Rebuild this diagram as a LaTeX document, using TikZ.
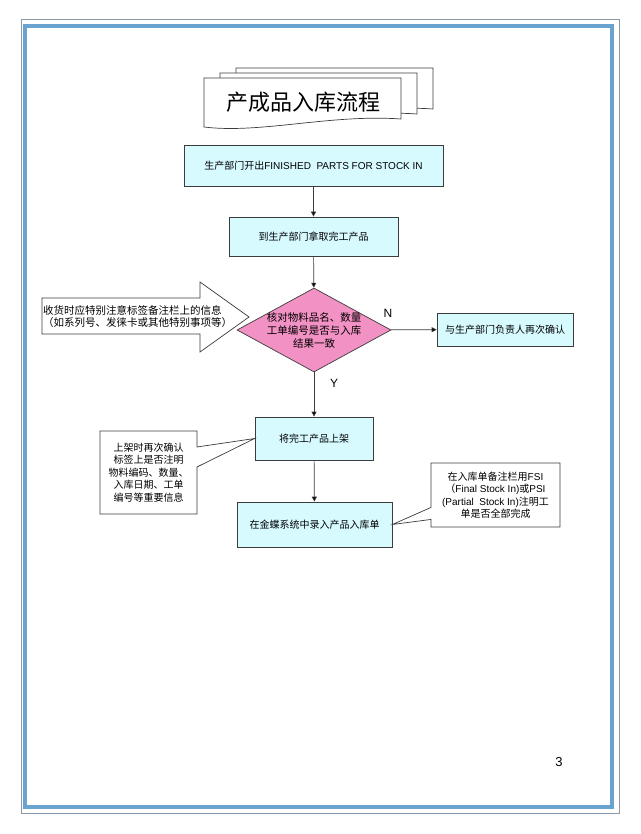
\documentclass[tikz,border=0pt]{standalone}
\usepackage{fontspec}
\setmainfont{Liberation Sans}
\newfontfamily\cjk{Noto Sans CJK SC}
\usetikzlibrary{arrows.meta}
\usetikzlibrary{positioning}
\usetikzlibrary{shapes.geometric}
\usetikzlibrary{shapes.callouts}

\definecolor{boxfill}{RGB}{215,250,255}
\definecolor{checkfill}{RGB}{242,145,195}
\definecolor{frameblue}{RGB}{105,163,208}
\definecolor{framegray}{RGB}{140,152,165}
\definecolor{linegray}{RGB}{60,60,60}

\begin{document}
\begin{tikzpicture}[x=1pt,y=-1pt,
    stepbox/.style={draw=linegray,line width=0.7pt,fill=boxfill,inner sep=2pt,
        font=\cjk\fontsize{10}{12}\selectfont,align=center},
    check/.style={diamond,draw=linegray,line width=0.7pt,fill=checkfill,inner sep=0pt},
    note/.style={rectangle callout,draw=linegray,line width=0.7pt,fill=white,
        font=\cjk\fontsize{10}{12.5}\selectfont,align=center,inner sep=2pt},
    flow/.style={draw=linegray,line width=0.7pt,-{Triangle[length=5pt,width=5pt]}}]
   \useasboundingbox (0,0) rectangle (640,834);
   % page frame
   \draw[framegray,line width=1pt] (21,20) rectangle (619,813);
   \draw[frameblue,line width=4pt] (25,26) rectangle (612,807);
   % title documents
   \foreach \dx/\dy in {32/-10,16/-5,0/0}
     \draw[linegray,line width=0.7pt,fill=white]
       (204+\dx,78+\dy) -- (401+\dx,78+\dy) -- (401+\dx,119+\dy)
       .. controls (330+\dx,114+\dy) and (260+\dx,134+\dy) .. (204+\dx,127+\dy) -- cycle;
   \node[font=\cjk\fontsize{22}{24}\selectfont] (title) at (303,102) {产成品入库流程};
   % flow
   \node[stepbox,minimum width=259pt,minimum height=41pt] (s_1) at (313.5,165.5)
      {生产部门开出{\rmfamily FINISHED\ \ PARTS FOR STOCK IN}};
   \node[stepbox,minimum width=169pt,minimum height=39pt] (s_2) at (313.5,236.5) {到生产部门拿取完工产品};
   \node[check,minimum width=154pt,minimum height=84pt] (d_1) at (314,330) {};
   \node[font=\cjk\fontsize{10.5}{13}\selectfont,align=center] (d_1t) at (d_1.center)
      {核对物料品名、数量\\工单编号是否与入库\\结果一致};
   \node[stepbox,minimum width=136pt,minimum height=33pt] (s_3) at (505,329.5) {与生产部门负责人再次确认};
   \node[stepbox,minimum width=118pt,minimum height=43pt] (s_4) at (314,438.5) {将完工产品上架};
   \node[stepbox,minimum width=155pt,minimum height=45pt] (s_5) at (314.5,524.5) {在金蝶系统中录入产品入库单};
   \path[flow]
    (s_1) edge (s_2)
    (s_2) edge (d_1)
    (d_1) edge (s_3)
    (d_1) edge (s_4)
    (s_4) edge (s_5);
   \node[font=\fontsize{12}{14}\selectfont] (n_lbl) at (388,313) {N};
   \node[font=\fontsize{12}{14}\selectfont] (y_lbl) at (334,383) {Y};
   % hint arrow
   \draw[linegray,line width=0.7pt,fill=white]
     (42,298) -- (200,298) -- (200,282) -- (249,317) -- (200,352) -- (200,334) -- (42,334) -- cycle;
   \node[anchor=west,inner sep=0pt,font=\cjk\fontsize{10.5}{12}\selectfont,align=left] (hint) at (43,317)
      {收货时应特别注意标签备注栏上的信息\\（如系列号、发徕卡或其他特别事项等）};
   % notes
   \node[note,minimum width=97pt,minimum height=83pt,callout pointer width=20pt,
         callout absolute pointer={(s_4.west)}] (c_1) at (148.5,472.5)
      {上架时再次确认\\标签上是否注明\\物料编码、数量、\\入库日期、工单\\编号等重要信息};
   \node[note,minimum width=129pt,minimum height=64pt,callout pointer width=12pt,
         callout absolute pointer={(s_5.east)}] (c_2) at (495.5,495)
      {在入库单备注栏用{\rmfamily FSI}\\（{\rmfamily Final Stock In)}或{\rmfamily PSI}\\{\rmfamily (Partial\ \ Stock In)}注明工\\单是否全部完成};
   \node[font=\fontsize{13}{15}\selectfont] (page) at (559,762) {3};
\end{tikzpicture}
\end{document}
